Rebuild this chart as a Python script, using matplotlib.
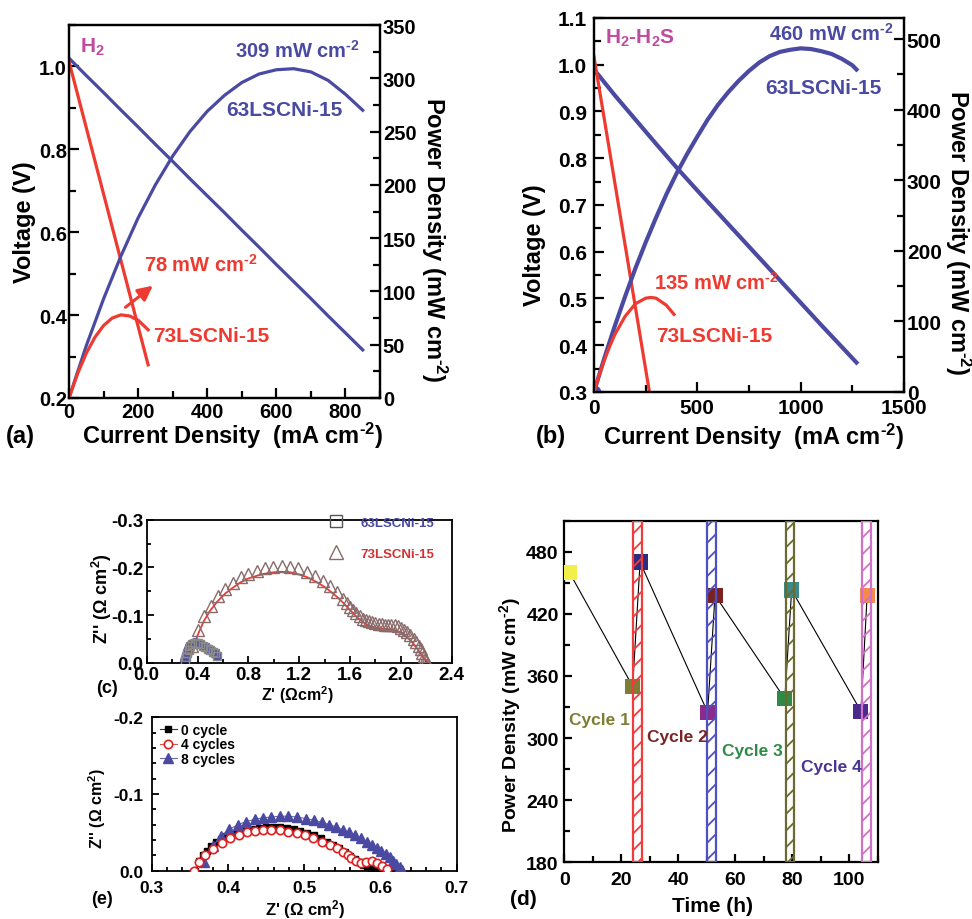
import matplotlib
matplotlib.use('Agg')
import matplotlib.pyplot as plt
from matplotlib.ticker import MultipleLocator, FormatStrFormatter, FixedLocator
from matplotlib.lines import Line2D

plt.rcParams.update({
    'font.family': ['Liberation Sans', 'DejaVu Sans'],
    'font.weight': 'bold',
    'axes.labelweight': 'bold',
    'mathtext.fontset': 'custom',
    'mathtext.rm': 'Liberation Sans:bold',
    'mathtext.bf': 'Liberation Sans:bold',
    'mathtext.it': 'Liberation Sans:bold',
    'mathtext.default': 'rm',
    'axes.unicode_minus': False,
    'hatch.linewidth': 1.3,
})

# ---------------- data ----------------
# (a) H2
a_I63 = [0, 50, 100, 150, 200, 250, 300, 350, 400, 450, 500, 550, 600, 650, 700, 750, 800, 850]
a_V63 = [1.020, 0.978, 0.937, 0.895, 0.854, 0.812, 0.771, 0.729, 0.688, 0.647, 0.605, 0.564,
         0.522, 0.481, 0.440, 0.398, 0.357, 0.316]
a_P63 = [0, 49, 93, 133, 169, 200, 227, 250, 269, 284, 296, 304, 308, 309, 306, 298, 285, 270]
a_I73 = [0, 229]
a_V73 = [1.012, 0.28]
a_IP73 = [0, 25, 50, 75, 100, 125, 150, 175, 200, 229]
a_P73 = [0, 23, 42, 57, 68, 75, 78, 77, 73, 64]

# (b) H2-H2S
b_I63 = [0, 100, 200, 300, 400, 500, 600, 700, 800, 900, 1000, 1100, 1200, 1270]
b_V63 = [0.99, 0.935, 0.883, 0.831, 0.780, 0.731, 0.683, 0.635, 0.587, 0.539, 0.491, 0.443, 0.396, 0.363]
b_IP63 = [0, 50, 100, 150, 200, 250, 300, 350, 400, 450, 500, 550, 600, 650, 700, 750, 800, 850,
          900, 950, 1000, 1050, 1100, 1150, 1200, 1250, 1270]
b_P63 = [0, 48, 93, 135, 175, 212, 247, 280, 310, 337, 362, 386, 407, 425, 441, 455, 467, 476,
         482, 485, 487, 486, 483, 479, 472, 463, 457]
b_I73 = [0, 270]
b_V73 = [1.017, 0.295]
b_IP73 = [0, 25, 50, 75, 100, 150, 200, 250, 275, 300, 350, 387]
b_P73 = [0, 24, 45, 64, 81, 107, 125, 133, 134, 133, 123, 110]

# (c) impedance
c_x73 = [0.354, 0.406, 0.451, 0.503, 0.564, 0.616, 0.681, 0.740, 0.800, 0.865, 0.931, 0.996, 1.062,
         1.127, 1.193, 1.259, 1.324, 1.385, 1.442, 1.495, 1.547, 1.575, 1.600, 1.625, 1.650, 1.675,
         1.700, 1.725, 1.750, 1.775, 1.800, 1.825, 1.850, 1.875, 1.900, 1.925, 1.950, 1.975, 2.000,
         2.025, 2.050, 2.075, 2.100, 2.120, 2.140, 2.156, 2.170, 2.180, 2.190, 2.200]
c_y73 = [-0.036, -0.070, -0.098, -0.120, -0.140, -0.155, -0.167, -0.179, -0.186, -0.193, -0.198,
         -0.202, -0.204, -0.202, -0.198, -0.191, -0.183, -0.172, -0.161, -0.148, -0.134, -0.126,
         -0.118, -0.111, -0.104, -0.098, -0.093, -0.090, -0.087, -0.085, -0.083, -0.082, -0.081,
         -0.080, -0.080, -0.080, -0.079, -0.077, -0.074, -0.070, -0.065, -0.059, -0.051, -0.044,
         -0.036, -0.029, -0.021, -0.015, -0.009, -0.004]
c_fx73 = [0.33, 0.36, 0.40, 0.45, 0.50, 0.56, 0.62, 0.68, 0.74, 0.80, 0.87, 0.93, 1.00, 1.06, 1.13,
          1.19, 1.26, 1.32, 1.39, 1.44, 1.50, 1.55, 1.60, 1.65, 1.70, 1.75, 1.80, 1.85, 1.90, 1.95,
          2.00, 2.05, 2.10, 2.15, 2.19, 2.23]
c_fy73 = [0.0, -0.025, -0.058, -0.088, -0.110, -0.130, -0.146, -0.158, -0.169, -0.177, -0.183,
          -0.187, -0.190, -0.191, -0.190, -0.186, -0.180, -0.172, -0.161, -0.151, -0.138, -0.125,
          -0.111, -0.097, -0.086, -0.078, -0.074, -0.072, -0.071, -0.069, -0.064, -0.054, -0.040,
          -0.022, -0.007, 0.0]
c_x63 = [0.30, 0.31, 0.32, 0.33, 0.34, 0.36, 0.38, 0.40, 0.42, 0.44, 0.46, 0.48, 0.50, 0.52, 0.54, 0.555]
c_y63 = [-0.004, -0.012, -0.020, -0.028, -0.035, -0.040, -0.042, -0.041, -0.039, -0.036, -0.033,
         -0.030, -0.027, -0.024, -0.020, -0.014]

# (e) impedance vs cycles
e_x0 = [0.357, 0.362, 0.367, 0.372, 0.378, 0.384, 0.391, 0.398, 0.406, 0.414, 0.423, 0.432, 0.441,
        0.450, 0.459, 0.468, 0.477, 0.486, 0.495, 0.504, 0.513, 0.522, 0.530, 0.538, 0.546, 0.553,
        0.560, 0.566, 0.572, 0.577, 0.582, 0.587, 0.591, 0.595, 0.598]
e_y0 = [0.000, -0.012, -0.020, -0.026, -0.032, -0.037, -0.041, -0.045, -0.048, -0.051, -0.053,
        -0.055, -0.056, -0.057, -0.057, -0.057, -0.056, -0.054, -0.052, -0.049, -0.046, -0.042,
        -0.038, -0.034, -0.029, -0.024, -0.019, -0.015, -0.011, -0.008, -0.006, -0.004, -0.003,
        -0.002, -0.001]
e_x4 = [0.355, 0.362, 0.370, 0.381, 0.392, 0.403, 0.414, 0.425, 0.436, 0.446, 0.457, 0.468, 0.479,
        0.490, 0.501, 0.512, 0.523, 0.534, 0.543, 0.551, 0.557, 0.562, 0.568, 0.574, 0.581, 0.589,
        0.595, 0.602, 0.609]
e_y4 = [0.000, -0.011, -0.020, -0.028, -0.036, -0.042, -0.047, -0.050, -0.052, -0.0535, -0.0535,
        -0.053, -0.051, -0.049, -0.046, -0.042, -0.038, -0.0335, -0.029, -0.025, -0.0205, -0.016,
        -0.012, -0.010, -0.011, -0.012, -0.010, -0.0065, -0.002]
e_x8 = [0.369, 0.380, 0.391, 0.402, 0.413, 0.424, 0.435, 0.446, 0.457, 0.468, 0.479, 0.491, 0.502,
        0.513, 0.523, 0.533, 0.542, 0.551, 0.559, 0.567, 0.575, 0.582, 0.589, 0.595, 0.601, 0.607,
        0.612, 0.617, 0.621, 0.625, 0.628]
e_y8 = [-0.011, -0.032, -0.045, -0.054, -0.060, -0.064, -0.067, -0.069, -0.070, -0.071, -0.071,
        -0.070, -0.068, -0.066, -0.063, -0.060, -0.057, -0.053, -0.050, -0.046, -0.042, -0.038,
        -0.034, -0.030, -0.026, -0.022, -0.018, -0.013, -0.009, -0.005, -0.001]

# (d) cycling
d_t = [1.8, 24.0, 26.6, 50.3, 52.9, 77.4, 79.8, 104.1, 106.3]
d_p = [460, 350, 470, 325, 438, 338, 443, 326, 438]
d_colors = ['#f2ee4a', '#7d7d35', '#2c2c82', '#8a2a8a', '#7a2222', '#2e8b47', '#3a8a8a', '#4a2a8a', '#f58a4a']
bar_start = [24.2, 50.0, 77.8, 104.6]
bar_end = [27.4, 53.2, 80.6, 107.5]
bar_colors = ['#f03c3c', '#5050c0', '#6b6b30', '#d070c8']
cycle_labels = ['Cycle 1', 'Cycle 2', 'Cycle 3', 'Cycle 4']
cycle_t = [1.6, 29.0, 55.3, 83.0]
cycle_p = [318, 302, 288, 273]
cycle_colors = ['#7d7d35', '#7a2525', '#2e8b47', '#4a3590']

BLUE = '#4a4aa2'
RED = '#ee3a30'
MAG = '#c04aa0'

W, H = 972, 920
fig = plt.figure(figsize=(W / 100, H / 100), dpi=100)


def rect(l, t, r, b):
    return [l / W, 1 - b / H, (r - l) / W, (b - t) / H]


def ftext(x, y, s, **kw):
    fig.text(x / W, 1 - y / H, s, **kw)


def style(ax, size, lw=1.5, major=6, minor=3.5):
    ax.tick_params(which='both', direction='in', width=lw, labelsize=size)
    ax.tick_params(which='major', length=major)
    ax.tick_params(which='minor', length=minor)
    for sp in ax.spines.values():
        sp.set_linewidth(lw)


SUP = r'$^{\text{-}2}$'

# ---------------- panel (a) ----------------
ax = fig.add_axes(rect(69, 26, 380, 399))
ax.plot(a_I63, a_V63, color=BLUE, lw=2.3)
ax.plot(a_I73, a_V73, color=RED, lw=2.3)
ax.set_xlim(0, 900)
ax.set_ylim(0.2, 1.1)
ax.xaxis.set_major_locator(MultipleLocator(200))
ax.xaxis.set_minor_locator(MultipleLocator(100))
ax.yaxis.set_major_locator(FixedLocator([0.2, 0.4, 0.6, 0.8, 1.0]))
ax.yaxis.set_minor_locator(MultipleLocator(0.1))
ax.yaxis.set_major_formatter(FormatStrFormatter('%.1f'))
style(ax, 14.5, lw=1.6, major=7, minor=5)
ax.tick_params(axis='x', pad=3)
ax.tick_params(axis='y', pad=1.5)
ax2 = ax.twinx()
ax2.plot(a_I63, a_P63, color=BLUE, lw=2.3)
ax2.plot(a_IP73, a_P73, color=RED, lw=2.3)
ax2.set_ylim(0, 350)
ax2.yaxis.set_major_locator(MultipleLocator(50))
ax2.yaxis.set_minor_locator(MultipleLocator(25))
style(ax2, 14.5, lw=1.6, major=7, minor=5)
ax2.tick_params(axis='y', pad=2)
ax2.annotate('', xy=(249, 107), xytext=(157, 83.5),
             arrowprops=dict(arrowstyle='-|>', color=RED, lw=2.2, mutation_scale=22))
ax.text(32, 1.049, r'H$_2$', color=MAG, fontsize=15, va='center', ha='left')
ax.text(481, 1.041, '309 mW cm' + SUP, color=BLUE, fontsize=14.5, va='center', ha='left')
ax.text(455, 0.896, '63LSCNi-15', color=BLUE, fontsize=15, va='center', ha='left')
ax.text(216, 0.523, '78 mW cm' + SUP, color=RED, fontsize=14.5, va='center', ha='left')
ax.text(244, 0.35, '73LSCNi-15', color=RED, fontsize=15, va='center', ha='left')
ftext(24, 222, 'Voltage (V)', rotation=90, ha='center', va='center', fontsize=17)
ftext(434, 240, 'Power Density (mW cm' + SUP + ')', rotation=270, ha='center', va='center', fontsize=17)
ftext(233, 436, 'Current Density  (mA cm' + SUP + ')', ha='center', va='center', fontsize=17)
ftext(20, 437, '(a)', ha='center', va='center', fontsize=17)

# ---------------- panel (b) ----------------
bx = fig.add_axes(rect(594, 19, 904, 393))
bx.plot(b_I63, b_V63, color=BLUE, lw=3)
bx.plot(b_I73, b_V73, color=RED, lw=2.3)
bx.set_xlim(0, 1500)
bx.set_ylim(0.3, 1.1)
bx.xaxis.set_major_locator(MultipleLocator(500))
bx.xaxis.set_minor_locator(MultipleLocator(250))
bx.yaxis.set_major_locator(MultipleLocator(0.1))
bx.yaxis.set_minor_locator(MultipleLocator(0.05))
bx.yaxis.set_major_formatter(FormatStrFormatter('%.1f'))
style(bx, 15, lw=1.6, major=7, minor=5)
bx.tick_params(axis='x', pad=4)
bx.tick_params(axis='y', pad=5)
bx2 = bx.twinx()
bx2.plot(b_IP63, b_P63, color=BLUE, lw=3, marker='o', markevery=[0], ms=9)
bx2.plot(b_IP73, b_P73, color=RED, lw=2.3)
bx2.set_ylim(0, 530)
bx2.yaxis.set_major_locator(MultipleLocator(100))
bx2.yaxis.set_minor_locator(MultipleLocator(50))
style(bx2, 15, lw=1.6, major=7, minor=5)
bx2.tick_params(axis='y', pad=2)
bx.text(53, 1.058, r'H$_2$-H$_2$S', color=MAG, fontsize=15, va='center', ha='left')
bx.text(848, 1.069, '460 mW cm' + SUP, color=BLUE, fontsize=14.5, va='center', ha='left')
bx.text(827, 0.951, '63LSCNi-15', color=BLUE, fontsize=15, va='center', ha='left')
bx.text(292, 0.536, '135 mW cm' + SUP, color=RED, fontsize=14.5, va='center', ha='left')
bx.text(303, 0.42, '73LSCNi-15', color=RED, fontsize=15, va='center', ha='left')
ftext(535, 245, 'Voltage (V)', rotation=90, ha='center', va='center', fontsize=17)
ftext(958, 233, 'Power Density (mW cm' + SUP + ')', rotation=270, ha='center', va='center', fontsize=17)
ftext(754, 437, 'Current Density  (mA cm' + SUP + ')', ha='center', va='center', fontsize=17)
ftext(551, 437, '(b)', ha='center', va='center', fontsize=17)

# ---------------- panel (c) ----------------
cx = fig.add_axes(rect(146.7, 520.7, 451.7, 664))
cx.plot(c_fx73, c_fy73, color=RED, lw=1.3, zorder=2)
cx.plot(c_x73, c_y73, ls='none', marker='^', ms=9, mfc='none', mec='#8a6a6a', mew=1.0, zorder=3)
cx.plot(c_x63, c_y63, color=BLUE, lw=7, solid_capstyle='round', zorder=2)
cx.plot(c_x63, c_y63, ls='none', marker='s', ms=6, mfc='none', mec='#8a8a8a', mew=1.0, zorder=3)
cx.set_xlim(0, 2.4)
cx.set_ylim(0.0, -0.3)
cx.xaxis.set_major_locator(MultipleLocator(0.4))
cx.xaxis.set_minor_locator(MultipleLocator(0.2))
cx.yaxis.set_major_locator(MultipleLocator(0.1))
cx.yaxis.set_minor_locator(MultipleLocator(0.05))
cx.xaxis.set_major_formatter(FormatStrFormatter('%.1f'))
cx.yaxis.set_major_formatter(FormatStrFormatter('%.1f'))
style(cx, 13.5, lw=1.3, major=5, minor=3)
cx.tick_params(axis='x', pad=2)
cx.tick_params(axis='y', pad=2.5)
hc = [Line2D([], [], ls='none', marker='s', ms=9, mfc='none', mec='#555555', mew=1.0),
      Line2D([], [], ls='none', marker='^', ms=10, mfc='none', mec='#8a6a6a', mew=1.0)]
leg = cx.legend(hc, ['63LSCNi-15', '73LSCNi-15'], loc='upper left', bbox_to_anchor=(0.60, 1.02),
                frameon=False, fontsize=9.5, handlelength=1.0, handletextpad=1.3, labelspacing=1.4,
                borderpad=0, borderaxespad=0)
for t, c in zip(leg.get_texts(), [BLUE, '#d03535']):
    t.set_color(c)
ftext(102, 599, r"Z'' ($\Omega$ cm$^2$)", rotation=90, ha='center', va='center', fontsize=13)
ftext(297, 695, r"Z' ($\Omega$cm$^2$)", ha='center', va='center', fontsize=11.5)
ftext(107, 689, '(c)', ha='center', va='center', fontsize=13)

# ---------------- panel (e) ----------------
ex = fig.add_axes(rect(151.7, 718.3, 456.7, 871.7))
ex.plot(e_x0, e_y0, color='#333333', lw=0.8, marker='s', ms=5, mfc='black', mec='black', label='0 cycle', zorder=3)
ex.plot(e_x8, e_y8, color='#6a6ab0', lw=0.8, marker='^', ms=7, mfc='#4a4aa2', mec='#4a4aa2', label='8 cycles', zorder=4)
ex.plot(e_x4, e_y4, color='#e05050', lw=0.8, marker='o', ms=6, mfc='white', mec='#e02020', mew=1.2, label='4 cycles', zorder=5)
ex.set_xlim(0.3, 0.7)
ex.set_ylim(0.0, -0.2)
ex.xaxis.set_major_locator(MultipleLocator(0.1))
ex.xaxis.set_minor_locator(MultipleLocator(0.02))
ex.yaxis.set_major_locator(MultipleLocator(0.1))
ex.yaxis.set_minor_locator(MultipleLocator(0.02))
ex.xaxis.set_major_formatter(FormatStrFormatter('%.1f'))
ex.yaxis.set_major_formatter(FormatStrFormatter('%.1f'))
style(ex, 12.5, lw=1.3, major=5, minor=3)
ex.tick_params(axis='x', pad=7)
ex.tick_params(axis='y', pad=6)
hs, ls_ = ex.get_legend_handles_labels()
order = [0, 2, 1]
ex.legend([hs[i] for i in order], [ls_[i] for i in order], loc='upper left', bbox_to_anchor=(0.027, 0.965),
          frameon=False, fontsize=10, handlelength=1.2, handletextpad=0.3, labelspacing=0.05,
          borderpad=0, borderaxespad=0)
ftext(97, 809, r"Z'' ($\Omega$ cm$^2$)", rotation=90, ha='center', va='center', fontsize=11.5)
ftext(305, 910, r"Z' ($\Omega$ cm$^2$)", ha='center', va='center', fontsize=12)
ftext(102, 900, '(e)', ha='center', va='center', fontsize=13)

# ---------------- panel (d) ----------------
dx = fig.add_axes(rect(564.3, 521.7, 877.7, 863.3))
dx.plot(d_t, d_p, color='black', lw=0.8, zorder=2)
dx.scatter(d_t, d_p, marker='s', s=120, c=d_colors, linewidths=0, zorder=3)
for s0, s1, c in zip(bar_start, bar_end, bar_colors):
    dx.axvspan(s0, s1, facecolor='none', edgecolor=c, hatch='//', lw=1.6, zorder=4)
for lab, t, p, c in zip(cycle_labels, cycle_t, cycle_p, cycle_colors):
    dx.text(t, p, lab, color=c, fontsize=12.5, ha='left', va='center', zorder=5)
dx.set_xlim(0, 110)
dx.set_ylim(180, 510)
dx.xaxis.set_major_locator(MultipleLocator(20))
dx.xaxis.set_minor_locator(MultipleLocator(10))
dx.yaxis.set_major_locator(FixedLocator([180, 240, 300, 360, 420, 480]))
dx.yaxis.set_minor_locator(MultipleLocator(30))
style(dx, 14, lw=1.6, major=6, minor=4)
dx.tick_params(axis='x', pad=6)
dx.tick_params(axis='y', pad=4)
ftext(510, 715, 'Power Density (mW cm' + SUP + ')', rotation=90, ha='center', va='center', fontsize=14)
ftext(713, 907, 'Time (h)', ha='center', va='center', fontsize=15)
ftext(523, 900, '(d)', ha='center', va='center', fontsize=15)

fig.savefig('out.png', dpi=100)
